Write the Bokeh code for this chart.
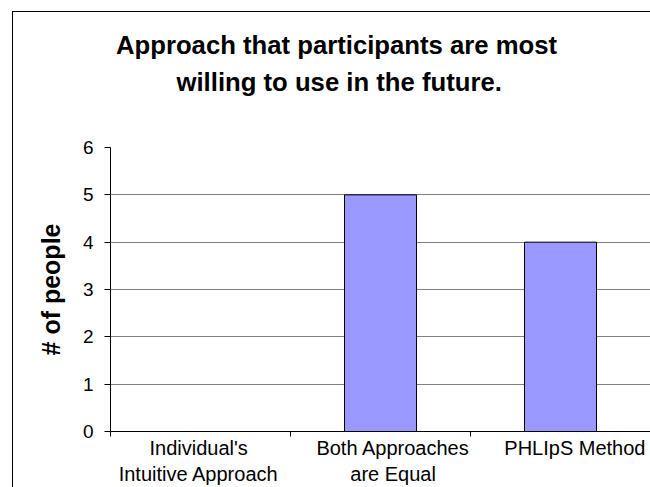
from bokeh.plotting import figure
from bokeh.models import Range1d, FixedTicker, Title, ColumnDataSource, LinearAxis
from bokeh.embed import file_html
from bokeh.resources import INLINE

categories = ["Individual's\nIntuitive Approach", "Both Approaches\nare Equal", "PHLIpS Method"]
counts = [0, 5, 4]
y_ticks = [0, 1, 2, 3, 4, 5, 6]
title_lines = ["Approach that participants are most", "willing to use in the future."]
y_label = "# of people"
# where the reference centres each category's label (in category widths)
label_pos = [0.49, 1.57, 2.58]

FONT = "Liberation Sans"
W, H = 650, 487
FL, FT, FB = 110, 147, 432   # frame edges in page pixels
TITLE_GAP = 47               # empty band between the title block and the frame
n = len(categories)
ymin, ymax = min(y_ticks), max(y_ticks)

x_pos = [i + 0.5 for i in range(n)]
boundaries = [float(i) for i in range(n + 1)]
src = ColumnDataSource(dict(x=x_pos, top=counts))

p = figure(width=W, height=H,
           x_range=Range1d(0, n), y_range=Range1d(ymin, ymax),
           output_backend="svg", toolbar_location=None,
           min_border_left=FL, min_border_right=0, min_border_top=FT,
           min_border_bottom=H - FB)
p.background_fill_color = "white"
p.border_fill_color = None
p.outline_line_color = None
# outer chart border (cropped on the right and bottom, as in the reference)
p.styles = {
    "background": "linear-gradient(#000,#000) 12px 11px / 1px 100% no-repeat, "
                  "linear-gradient(#000,#000) 12px 11px / 100% 1px no-repeat, #fff"
}

p.vbar(x="x", top="top", bottom=0, width=0.4, source=src,
       fill_color="#9999FF", line_color="black", line_width=1)

# x axis
xa = p.xaxis[0]
xa.ticker = FixedTicker(ticks=label_pos, minor_ticks=boundaries)
xa.major_label_overrides = {x: c for x, c in zip(label_pos, categories)}
xa.major_tick_out = 0
xa.major_tick_in = 0
xa.major_tick_line_color = None
xa.minor_tick_out = 5
xa.minor_tick_in = 0
xa.minor_tick_line_color = "black"
xa.axis_line_color = "black"
xa.major_label_standoff = 0
xa.major_label_text_font = FONT
xa.major_label_text_font_size = "20px"
xa.major_label_text_color = "black"
xa.major_label_orientation = "horizontal"

# y axis
ya = p.yaxis[0]
ya.ticker = FixedTicker(ticks=y_ticks, minor_ticks=[])
ya.major_tick_out = 6
ya.major_tick_in = 0
ya.major_tick_line_color = "black"
ya.axis_line_color = "black"
ya.major_label_standoff = 11
ya.major_label_text_font = FONT
ya.major_label_text_font_size = "19px"
ya.major_label_text_color = "black"
ya.axis_label = y_label
ya.axis_label_text_font = FONT
ya.axis_label_text_font_size = "25px"
ya.axis_label_text_font_style = "bold"
ya.axis_label_text_color = "black"
ya.axis_label_standoff = 15

p.xgrid.visible = False
p.ygrid.ticker = FixedTicker(ticks=y_ticks)
p.ygrid.grid_line_color = "#808080"
p.ygrid.grid_line_width = 1

# blank band between the frame and the title (a single white tick, no labels)
spacer = LinearAxis(ticker=FixedTicker(ticks=[0.0], minor_ticks=[]), axis_line_color=None,
                    major_tick_out=TITLE_GAP, major_tick_in=0, major_tick_line_color="white",
                    minor_tick_line_color=None, minor_tick_out=0, major_label_standoff=0,
                    major_label_text_color=None, major_label_text_font_size="1px")
p.add_layout(spacer, "above")

# title lines: line 2 (nearest to the frame) first, then line 1
for txt, off in [(title_lines[1], 66), (title_lines[0], 5.5)]:
    p.add_layout(Title(text=txt, align="left", offset=off, vertical_align="middle", standoff=7,
                       text_font=FONT, text_font_size="25.7px", text_font_style="bold",
                       text_color="black"), "above")

open("out.html", "w").write(file_html(p, INLINE))
